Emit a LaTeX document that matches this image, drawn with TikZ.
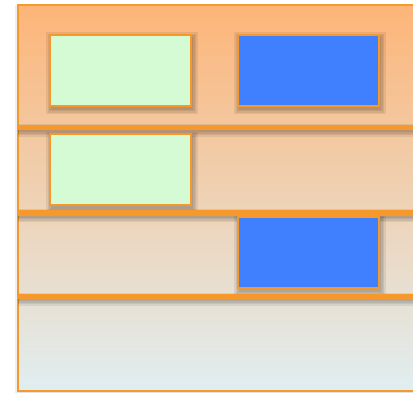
\documentclass[tikz,border=0pt]{standalone}
\usetikzlibrary{backgrounds}
\definecolor{ora}{HTML}{F7992A}
\definecolor{topc}{HTML}{FDB578}
\definecolor{midc}{HTML}{F0D4BD}
\definecolor{botc}{HTML}{E0EEF1}
\definecolor{grn}{HTML}{D4FBD4}
\definecolor{blu}{HTML}{4080FF}
\pgfdeclarelayer{frame}
\pgfsetlayers{frame,background,main}
\tikzset{
  box/.style={draw=ora, line width=1.8pt, minimum width=141pt, minimum height=71pt, inner sep=0pt, anchor=north west},
  gbox/.style={box, fill=grn},
  bbox/.style={box, fill=blu},
  sep/.style={draw=ora, line width=5.5pt},
}
\begin{document}
\begin{tikzpicture}[x=1pt,y=-1pt]
\useasboundingbox (0,0) rectangle (413,393);
\clip (0,0) rectangle (413,393);
\begin{pgfonlayer}{frame}
% frame shadow
\foreach \e in {0,1.5,3}{
  \fill[black, opacity=0.06] (18-\e,8-\e) rectangle (440,391+\e);
}
\shade[top color=topc, middle color=midc, bottom color=botc, draw=ora, line width=2pt] (18,5) rectangle (440,391);
\end{pgfonlayer}
\node[gbox] (g1) at (49,34) {};
\node[bbox] (b1) at (237,34) {};
\node[gbox] (g2) at (49,133.5) {};
\node[bbox] (b2) at (237,216) {};
\coordinate (s1l) at (18,127.5); \coordinate (s1r) at (440,127.5);
\coordinate (s2l) at (18,213);   \coordinate (s2r) at (440,213);
\coordinate (s3l) at (18,296.5); \coordinate (s3r) at (440,296.5);
\draw[sep] (s1l) -- (s1r);
\draw[sep] (s2l) -- (s2r);
\draw[sep] (s3l) -- (s3r);
\begin{pgfonlayer}{background}
\foreach \n in {g1,b1,g2,b2}{
  \foreach \e in {0,1.5,3,4.5}{
    \fill[black, opacity=0.07] ([xshift=1.5pt-\e pt, yshift=-3pt+\e pt]\n.north west) rectangle ([xshift=1.5pt+\e pt, yshift=-3pt-\e pt]\n.south east);
  }
}
\foreach \s in {1,2,3}{
  \foreach \e in {0,1.5,3,4.5}{
    \fill[black, opacity=0.07] ([yshift=-1pt+\e pt]s\s l) rectangle ([yshift=-5pt-\e pt]s\s r);
  }
}
\end{pgfonlayer}
\end{tikzpicture}
\end{document}
